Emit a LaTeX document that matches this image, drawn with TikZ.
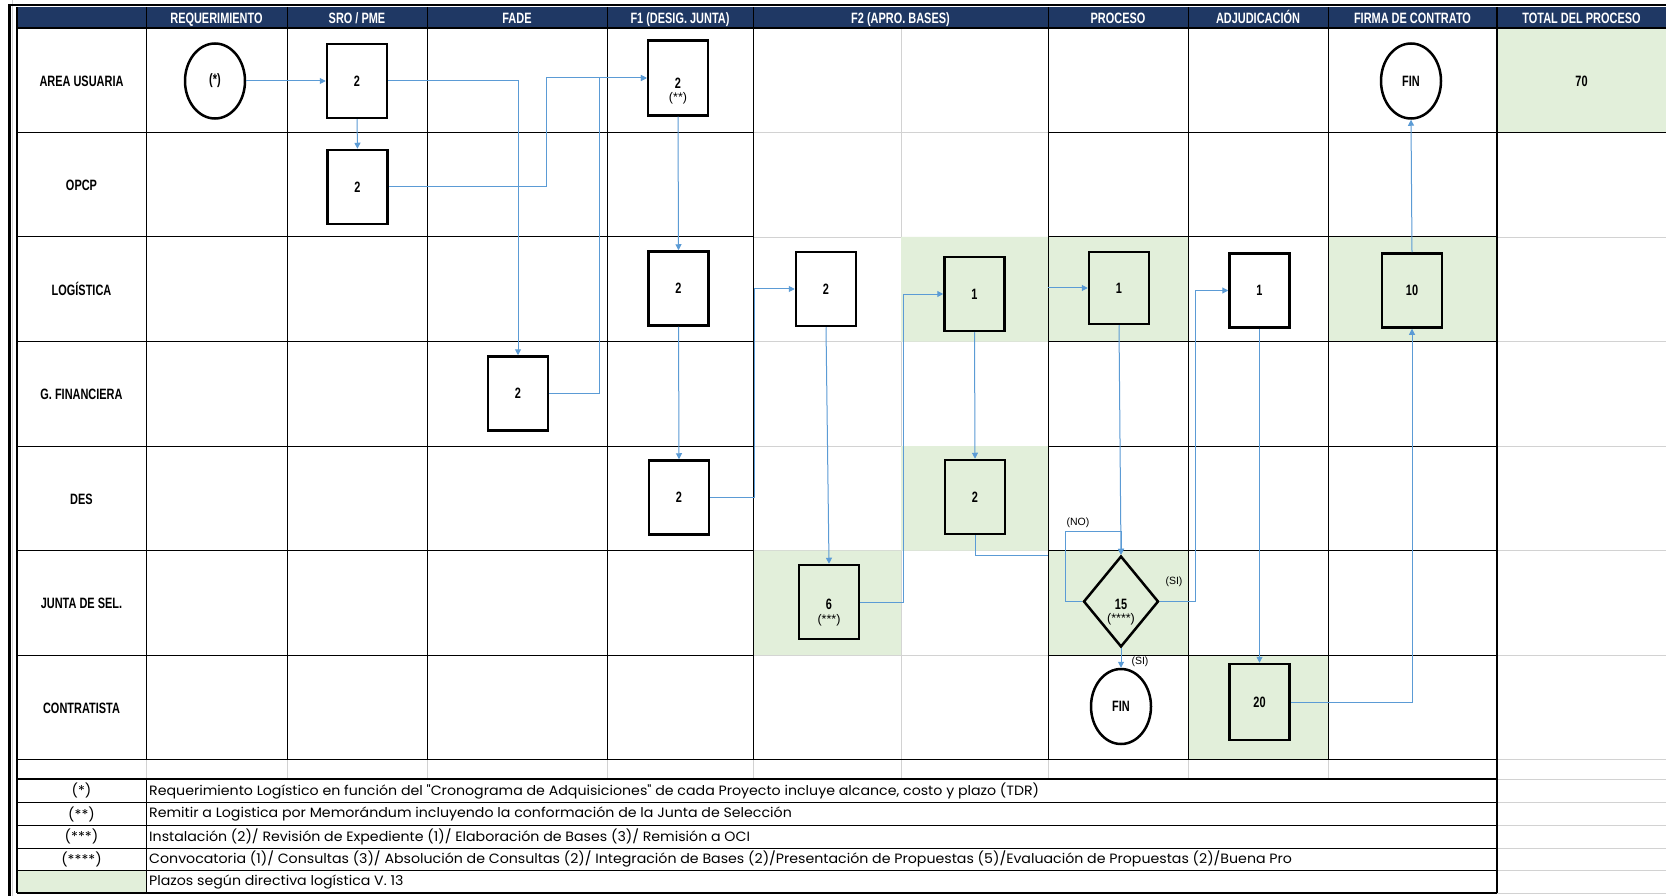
\documentclass[tikz,border=0pt]{standalone}
\usepackage{fontspec}
\setmainfont{Liberation Sans}
\newfontfamily\condfont[FakeStretch=0.73]{Liberation Sans}
\newfontfamily\legfont[FakeStretch=1.05]{Poppins}
\usetikzlibrary{arrows.meta,shapes.geometric,calc}
\definecolor{navy}{RGB}{31,56,100}
\definecolor{cellgreen}{RGB}{226,239,218}
\definecolor{conn}{RGB}{91,155,213}
\definecolor{gridgray}{RGB}{210,210,210}

\begin{document}
\begin{tikzpicture}[x=1pt,y=-1pt,
hdr/.style={text=white,anchor=base,font=\condfont\bfseries\fontsize{15}{18}\selectfont},
lane/.style={font=\condfont\bfseries\fontsize{15}{18}\selectfont},
box/.style={draw,line width=2.5pt,minimum width=60pt,minimum height=74pt,inner sep=0pt,font=\condfont\bfseries\fontsize{15}{18}\selectfont},
term/.style={box,ellipse,minimum height=75pt},
dec/.style={box,diamond,minimum width=75pt,minimum height=91pt},
note/.style={font=\fontsize{12.5}{14}\selectfont},
tag/.style={font=\fontsize{10.5}{12}\selectfont},
leg/.style={font=\legfont\fontsize{13.5}{15}\selectfont,inner sep=0pt},
arr/.style={-{Triangle[length=6pt,width=6pt]},conn,line width=1pt},
lnk/.style={conn,line width=1pt}]
\useasboundingbox (0,0) rectangle (1666,896);
\fill[white] (0,0) rectangle (1666,896);
% sheet grid
\draw[gridgray] (12.5,0) -- (12.5,896) (901,28) -- (901,779);
\foreach \y in {132.5,237,341.5,446,550.5,655} \draw[gridgray] (753,\y) -- (1048,\y);
\foreach \y in {237,341.5,446,550.5,655,759.5,779,802.5,825.5,848,870.5,893.3} \draw[gridgray] (1497,\y) -- (1666,\y);
\foreach \x in {146,287,427,607,753,1048,1188,1328} \draw[gridgray] (\x,759.5) -- (\x,779);
% plazos cells
\fill[cellgreen] (1497,28) rectangle (1666,132.5) (901,237) rectangle (1048,341.5) (1048,237) rectangle (1188,341.5)
  (1328,237) rectangle (1497,341.5) (901,446) rectangle (1048,550.5) (753,550.5) rectangle (901,655)
  (1048,550.5) rectangle (1188,655) (1188,655) rectangle (1328,759.5) (17,870.5) rectangle (146,893.3);
\fill[navy] (17,7) rectangle (1666,28);
% table lines
\foreach \x in {146,287,427,607,753,1048,1188,1328} \draw[line width=1pt] (\x,7) -- (\x,759.5);
\draw[line width=1.5pt] (17,7) -- (17,893.3) (1497,7) -- (1497,893.3);
\foreach \y in {132.5,237,341.5,446,550.5,655} \draw[line width=1pt] (17,\y) -- (753,\y) (1048,\y) -- (1497,\y);
\draw[line width=2pt] (17,28) -- (1666,28);
\draw[line width=1.5pt] (17,759.5) -- (1497,759.5) (1497,132.5) -- (1666,132.5);
\draw[line width=2pt] (17,779) -- (1497,779) (17,893.3) -- (1497,893.3);
\foreach \y in {802.5,825.5,848,870.5} \draw[line width=1pt] (17,\y) -- (1497,\y);
\draw[line width=1pt] (146,779) -- (146,893.3);
\draw[line width=2.5pt] (9.5,4) -- (9.5,896);
\draw[line width=2pt] (8.3,5) -- (1666,5);
% headers
\node[hdr](h1) at (216.5,23.5){REQUERIMIENTO};
\node[hdr](h2) at (357,23.5){SRO / PME};
\node[hdr](h3) at (517,23.5){FADE};
\node[hdr](h4) at (680,23.5){F1 (DESIG. JUNTA)};
\node[hdr](h5) at (900.5,23.5){F2 (APRO. BASES)};
\node[hdr](h6) at (1118,23.5){PROCESO};
\node[hdr](h7) at (1258,23.5){ADJUDICACIÓN};
\node[hdr](h8) at (1412.5,23.5){FIRMA DE CONTRATO};
\node[hdr](h9) at (1581.5,23.5){TOTAL DEL PROCESO};
% lanes
\node[lane](a1) at (81.5,81.3){AREA USUARIA};
\node[lane](a2) at (81.5,185.8){OPCP};
\node[lane](a3) at (81.5,289.3){LOGÍSTICA};
\node[lane](a4) at (81.5,394.8){G. FINANCIERA};
\node[lane](a5) at (81.5,499.3){DES};
\node[lane](a6) at (81.5,603.8){JUNTA DE SEL.};
\node[lane](a7) at (81.5,708.3){CONTRATISTA};
\node[lane](tot) at (1581.5,81){70};
% steps
\node[term](e0) at (215,81){(*)};
\node[box](b1) at (357,81){2};
\node[box](b2) at (357.5,187){2};
\node[box,minimum height=75pt,label={[lane,yshift=-5pt]center:2},label={[note,yshift=-20pt]center:(**)}](b3) at (678,78){};
\node[box](b4) at (518,393.5){2};
\node[box](b5) at (678.5,288.5){2};
\node[box](b6) at (679,497.5){2};
\node[box](b7) at (826,289){2};
\node[box,label={[lane,yshift=-2pt]center:6},label={[note,yshift=-18pt]center:(***)}](b8) at (829,602){};
\node[box](b9) at (974.5,294){1};
\node[box](b10) at (975,497){2};
\node[box,minimum height=72pt](b11) at (1119,288){1};
\node[dec,label={[lane,yshift=-3pt]center:15},label={[note,yshift=-18pt]center:(****)}](d1) at (1121,601.5){};
\node[term](e1) at (1121,706.5){FIN};
\node[box](b12) at (1259.5,290.5){1};
\node[box,minimum height=76pt](b13) at (1259.5,702){20};
\node[box](b14) at (1412,290.5){10};
\node[term](e2) at (1411,81){FIN};
% flow
\draw[arr] (e0.east) -- (b1.west);
\draw[arr] (b1.south) -- (b2.north);
\draw[arr] (b1.east) -| (b4.north);
\draw[arr] (b2.east) -- ++(158,0) |- (b3.west);
\draw[arr] (b4.east) -- ++(50,0) |- (b3.west);
\draw[arr] (b3.south) -- (b5.north);
\draw[arr] (b5.south) -- (b6.north);
\draw[arr] (b6.east) -- ++(44,0) |- (b7.west);
\draw[arr] (b7.south) -- (b8.north);
\draw[arr] (b8.east) -- ++(43,0) |- (b9.west);
\draw[arr] (b9.south) -- (b10.north);
\coordinate (p1) at (1048,555);
\draw[lnk] (b10.south) |- (p1);
\coordinate (p2) at (1048,288);
\draw[arr] (p2) -- (b11.west);
\draw[arr] (b11.south) -- (d1.north);
\draw[arr] (d1.west) -- ++(-17,0) |- ([yshift=23pt]d1.north) -- (d1.north);
\draw[arr] (d1.east) -- ++(36,0) |- (b12.west);
\draw[arr] (d1.south) -- (e1.north);
\draw[arr] (b12.south) -- (b13.north);
\draw[arr] (b13.east) -| (b14.south);
\draw[arr] (b14.north) -- (e2.south);
\node[tag](t1) at (1078,523){(NO)};
\node[tag](t2) at (1174,582){(SI)};
\node[tag](t3) at (1140,662){(SI)};
% notes
\node[leg](k1) at (81.5,790.8){(*)};
\node[leg](k2) at (81.5,814){(**)};
\node[leg](k3) at (81.5,836.8){(***)};
\node[leg](k4) at (81.5,859.3){(****)};
\node[leg,anchor=west](l1) at (149,790.8){Requerimiento Logístico en función del "Cronograma de Adquisiciones" de cada Proyecto incluye alcance, costo y plazo (TDR)};
\node[leg,anchor=west](l2) at (149,814){Remitir a Logistica por Memorándum incluyendo la conformación de la Junta de Selección};
\node[leg,anchor=west](l3) at (149,836.8){Instalación (2)/ Revisión de Expediente (1)/ Elaboración de Bases (3)/ Remisión a OCI};
\node[leg,anchor=west](l4) at (149,859.3){Convocatoria (1)/ Consultas (3)/ Absolución de Consultas (2)/ Integración de Bases (2)/Presentación de Propuestas (5)/Evaluación de Propuestas (2)/Buena Pro};
\node[leg,anchor=west](l5) at (149,881.8){Plazos según directiva logística V. 13};
\end{tikzpicture}
\end{document}
